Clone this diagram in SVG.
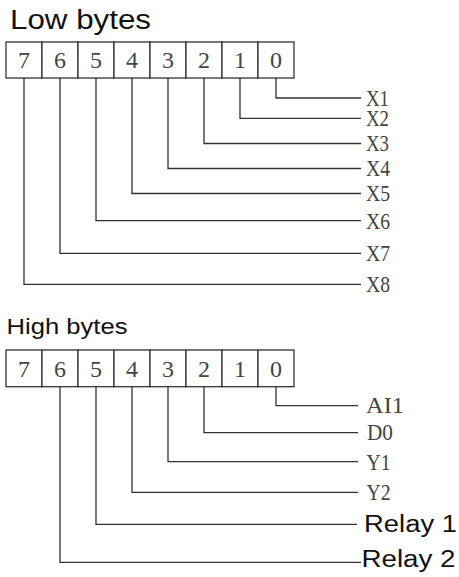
<svg xmlns="http://www.w3.org/2000/svg" width="459" height="577" viewBox="0 0 459 577">
<style>
.cell{fill:#fff;stroke:#333;stroke-width:1.3}
.dig{font-family:"Liberation Serif",serif;font-size:24px;fill:#444;text-anchor:middle}
.lab{font-family:"Liberation Serif",serif;font-size:24px;fill:#444}
.lab2{font-family:"Liberation Serif",serif;font-size:22.5px;fill:#444}
.ttl{font-family:"Liberation Sans",Arial,sans-serif;fill:#111}
.con{fill:none;stroke:#333;stroke-width:1.3}
</style>
<rect width="459" height="577" fill="#fff"/>
<text class="ttl" x="10" y="28.5" font-size="27" textLength="141" lengthAdjust="spacingAndGlyphs">Low bytes</text>
<g id="low-register">
<rect class="cell" x="6" y="42" width="36" height="36"/>
<rect class="cell" x="42" y="42" width="36" height="36"/>
<rect class="cell" x="78" y="42" width="36" height="36"/>
<rect class="cell" x="114" y="42" width="36" height="36"/>
<rect class="cell" x="150" y="42" width="36" height="36"/>
<rect class="cell" x="186" y="42" width="36" height="36"/>
<rect class="cell" x="222" y="42" width="36" height="36"/>
<rect class="cell" x="258" y="42" width="36" height="36"/>
<text class="dig" x="24" y="68">7</text>
<text class="dig" x="60" y="68">6</text>
<text class="dig" x="96" y="68">5</text>
<text class="dig" x="132" y="68">4</text>
<text class="dig" x="168" y="68">3</text>
<text class="dig" x="204" y="68">2</text>
<text class="dig" x="240" y="68">1</text>
<text class="dig" x="276" y="68">0</text>
</g>
<g id="low-labels">
<text class="lab" x="366" y="105.5" textLength="23" lengthAdjust="spacingAndGlyphs">X1</text>
<text class="lab" x="366" y="126" textLength="23" lengthAdjust="spacingAndGlyphs">X2</text>
<text class="lab" x="366" y="151" textLength="23" lengthAdjust="spacingAndGlyphs">X3</text>
<text class="lab" x="366" y="176" textLength="24" lengthAdjust="spacingAndGlyphs">X4</text>
<text class="lab" x="366" y="201" textLength="24" lengthAdjust="spacingAndGlyphs">X5</text>
<text class="lab" x="366" y="228.5" textLength="24" lengthAdjust="spacingAndGlyphs">X6</text>
<text class="lab" x="366" y="261" textLength="24" lengthAdjust="spacingAndGlyphs">X7</text>
<text class="lab" x="366" y="292" textLength="24" lengthAdjust="spacingAndGlyphs">X8</text>
</g>
<text class="ttl" x="6.5" y="334.3" font-size="22.5" textLength="121" lengthAdjust="spacingAndGlyphs">High bytes</text>
<g id="high-register">
<rect class="cell" x="6" y="350" width="36" height="36.7"/>
<rect class="cell" x="42" y="350" width="36" height="36.7"/>
<rect class="cell" x="78" y="350" width="36" height="36.7"/>
<rect class="cell" x="114" y="350" width="36" height="36.7"/>
<rect class="cell" x="150" y="350" width="36" height="36.7"/>
<rect class="cell" x="186" y="350" width="36" height="36.7"/>
<rect class="cell" x="222" y="350" width="36" height="36.7"/>
<rect class="cell" x="258" y="350" width="36" height="36.7"/>
<text class="dig" x="24" y="376.5">7</text>
<text class="dig" x="60" y="376.5">6</text>
<text class="dig" x="96" y="376.5">5</text>
<text class="dig" x="132" y="376.5">4</text>
<text class="dig" x="168" y="376.5">3</text>
<text class="dig" x="204" y="376.5">2</text>
<text class="dig" x="240" y="376.5">1</text>
<text class="dig" x="276" y="376.5">0</text>
</g>
<g id="high-labels">
<text class="lab2" x="366" y="413.3" textLength="38" lengthAdjust="spacingAndGlyphs">AI1</text>
<text class="lab2" x="367" y="440.3" textLength="26" lengthAdjust="spacingAndGlyphs">D0</text>
<text class="lab2" x="366.5" y="469.5" textLength="24" lengthAdjust="spacingAndGlyphs">Y1</text>
<text class="lab2" x="366.5" y="500" textLength="24" lengthAdjust="spacingAndGlyphs">Y2</text>
<text class="ttl" x="364" y="531.7" font-size="23.3" textLength="93" lengthAdjust="spacingAndGlyphs">Relay 1</text>
<text class="ttl" x="361.5" y="566.7" font-size="23.3" textLength="94" lengthAdjust="spacingAndGlyphs">Relay 2</text>
</g>
<g id="connectors">
<polyline class="con" points="276,78 276,98 361,98"/>
<polyline class="con" points="240,78 240,118.3 361,118.3"/>
<polyline class="con" points="204,78 204,143.5 361,143.5"/>
<polyline class="con" points="168,78 168,168.5 361,168.5"/>
<polyline class="con" points="132,78 132,193.5 361,193.5"/>
<polyline class="con" points="96,78 96,220.7 361,220.7"/>
<polyline class="con" points="60,78 60,253.3 361,253.3"/>
<polyline class="con" points="24,78 24,284.3 361,284.3"/>
<polyline class="con" points="276,386.7 276,405.7 358,405.7"/>
<polyline class="con" points="204,386.7 204,432.7 358,432.7"/>
<polyline class="con" points="168,386.7 168,461.7 358,461.7"/>
<polyline class="con" points="132,386.7 132,492.3 358,492.3"/>
<polyline class="con" points="96,386.7 96,524.3 357,524.3"/>
<polyline class="con" points="60,386.7 60,562.3 361,562.3"/>
</g>
</svg>
